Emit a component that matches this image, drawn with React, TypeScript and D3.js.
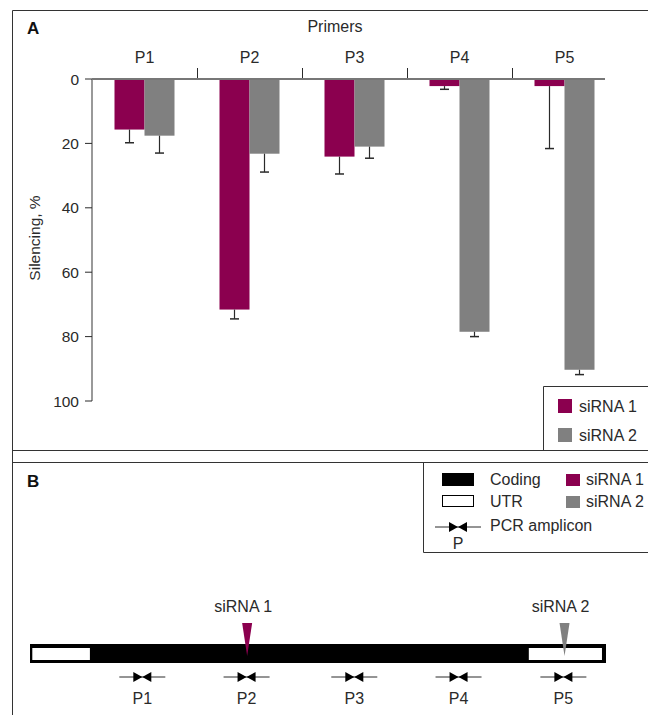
import * as d3 from "d3";

const primers = ["P1", "P2", "P3", "P4", "P5"];
const series = ["siRNA 1", "siRNA 2"];
const sirna1 = [15.7, 71.6, 24.1, 2.2, 2.2];
const sirna1Err = [4.1, 2.9, 5.4, 1.0, 19.4];
const sirna2 = [17.6, 23.2, 21.0, 78.5, 90.3];
const sirna2Err = [5.4, 5.7, 3.6, 1.5, 1.5];
const yTicks = [0, 20, 40, 60, 80, 100];

// gene map, positions in % of transcript length
const utr5 = [0.4, 10.4];
const utr3 = [86.6, 99.3];
const sirnaSites = [37.7, 92.8];
const primerSites = [19.5, 37.6, 56.3, 74.4, 92.6];

const colors = ["#8b004f", "#808080"];
const font = "'Liberation Sans', Arial, Helvetica, sans-serif";
const ink = "#2a2a2a";
const axisGray = "#777";
const fs = 16;

const Bowtie = ({ cx, cy }: { cx: number; cy: number }) => (
  <g>
    <line x1={cx - 23} x2={cx + 23} y1={cy} y2={cy} stroke={ink} strokeWidth={1} />
    <path d={`M${cx - 9},${cy - 5}L${cx},${cy}L${cx - 9},${cy + 5}Z`} fill="#000" />
    <path d={`M${cx + 9},${cy - 5}L${cx},${cy}L${cx + 9},${cy + 5}Z`} fill="#000" />
  </g>
);

export default function App() {
  const x0 = d3.scaleBand().domain(primers).range([92, 617]);
  const x1 = d3.scaleBand().domain(series).range([0, 60]);
  const y = d3.scaleLinear().domain([0, 100]).range([79, 401]);

  const rows = primers.map((p, i) => ({
    p,
    vals: [
      { s: series[0], v: sirna1[i], e: sirna1Err[i] },
      { s: series[1], v: sirna2[i], e: sirna2Err[i] },
    ],
  }));

  const gx = d3.scaleLinear().domain([0, 100]).range([30, 606]);
  const barTop = 644;
  const barBot = 663;

  return (
    <svg
      width={648}
      height={715}
      style={{ position: "absolute", left: 0, top: 0, background: "#fff" }}
      fontFamily={font}
    >
      {/* Panel A frame */}
      <path d="M12.5,715V10.5H648" fill="none" stroke="#333" />
      <line x1={12} x2={648} y1={450.5} y2={450.5} stroke="#333" />
      <text x={27} y={34} fontSize={17} fontWeight="bold" fill="#111">A</text>
      <text x={335} y={32} fontSize={fs} fill={ink} textAnchor="middle">Primers</text>

      {/* category labels and separators */}
      {primers.map((p) => (
        <text key={p} x={(x0(p) ?? 0) + x0.bandwidth() / 2} y={63} fontSize={fs} fill={ink} textAnchor="middle">
          {p}
        </text>
      ))}
      {primers.slice(1).map((p) => (
        <line key={p} x1={x0(p)! + 0.5} x2={x0(p)! + 0.5} y1={68} y2={y(0)} stroke={ink} />
      ))}

      {/* bars */}
      {rows.map((r) =>
        r.vals.map((d, j) => {
          const bx = x0(r.p)! + x0.bandwidth() / 2 - 30 + x1(d.s)!;
          const cx = bx + x1.bandwidth() / 2;
          return (
            <g key={r.p + d.s}>
              <rect x={bx} y={y(0)} width={x1.bandwidth()} height={y(d.v) - y(0)} fill={colors[j]} />
              <line x1={cx} x2={cx} y1={y(d.v)} y2={y(d.v + d.e)} stroke={ink} strokeWidth={1.2} />
              <line x1={cx - 4.5} x2={cx + 4.5} y1={y(d.v + d.e)} y2={y(d.v + d.e)} stroke={ink} strokeWidth={1.5} />
            </g>
          );
        })
      )}

      {/* axes */}
      <line x1={92} x2={605} y1={y(0)} y2={y(0)} stroke={axisGray} strokeWidth={2} />
      <line x1={92} x2={92} y1={y(0)} y2={y(100)} stroke={axisGray} strokeWidth={1.5} />
      {yTicks.map((t) => (
        <g key={t}>
          <line x1={85} x2={92} y1={y(t)} y2={y(t)} stroke={ink} />
          <text x={79} y={y(t) + 5.5} fontSize={15.5} fill={ink} textAnchor="end">{t}</text>
        </g>
      ))}
      <text transform="translate(40,238) rotate(-90)" fontSize={15.5} fill={ink} textAnchor="middle">
        Silencing, %
      </text>

      {/* legend A */}
      <path d="M543.5,451V386.5H648" fill="none" stroke="#333" />
      {series.map((s, j) => (
        <g key={s}>
          <rect x={558} y={399 + j * 29} width={14} height={14} fill={colors[j]} />
          <text x={579} y={412 + j * 29} fontSize={fs} fill={ink}>{s}</text>
        </g>
      ))}

      {/* Panel B frame */}
      <path d="M12.5,715V462.5H648" fill="none" stroke="#333" />
      <text x={27} y={487} fontSize={17} fontWeight="bold" fill="#111">B</text>

      {/* legend B */}
      <path d="M423.5,462V552.5H648" fill="none" stroke="#333" />
      <rect x={442} y={473} width={32} height={13} fill="#000" />
      <text x={490} y={485} fontSize={fs} fill={ink}>Coding</text>
      <rect x={442.5} y={495.5} width={31} height={11} fill="#fff" stroke="#000" />
      <text x={490} y={507} fontSize={fs} fill={ink}>UTR</text>
      <Bowtie cx={458} cy={527} />
      <text x={458} y={549} fontSize={fs} fill={ink} textAnchor="middle">P</text>
      <text x={490} y={531} fontSize={fs} fill={ink}>PCR amplicon</text>
      {series.map((s, j) => (
        <g key={s}>
          <rect x={566} y={474 + j * 22} width={14} height={12} fill={colors[j]} />
          <text x={586} y={485 + j * 22} fontSize={fs} fill={ink}>{s}</text>
        </g>
      ))}

      {/* gene map */}
      <rect x={gx(0)} y={barTop} width={gx(100) - gx(0)} height={barBot - barTop} fill="#000" />
      {[utr5, utr3].map((u, i) => (
        <rect key={i} x={gx(u[0])} y={barTop + 4} width={gx(u[1]) - gx(u[0])} height={barBot - barTop - 7} fill="#fff" />
      ))}
      {sirnaSites.map((s, j) => (
        <g key={j}>
          <path d={`M${gx(s) - 5},623L${gx(s) + 5},623L${gx(s)},656Z`} fill={colors[j]} />
          <text x={gx(s) - 4} y={612} fontSize={fs} fill={ink} textAnchor="middle">{series[j]}</text>
        </g>
      ))}
      {primerSites.map((p, i) => (
        <g key={i}>
          <Bowtie cx={gx(p)} cy={677} />
          <text x={gx(p)} y={704} fontSize={fs} fill={ink} textAnchor="middle">{primers[i]}</text>
        </g>
      ))}
    </svg>
  );
}
